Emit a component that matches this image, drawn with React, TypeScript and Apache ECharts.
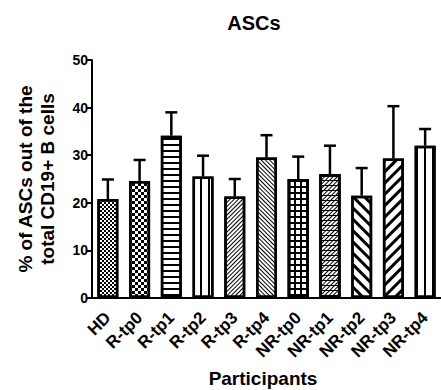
import React, { useEffect, useRef } from "react";
import * as echarts from "echarts";

const categories = ["HD", "R-tp0", "R-tp1", "R-tp2", "R-tp3", "R-tp4", "NR-tp0", "NR-tp1", "NR-tp2", "NR-tp3", "NR-tp4"];
const means = [20.8, 24.6, 34.1, 25.5, 21.3, 29.5, 25.0, 26.0, 21.5, 29.3, 32.0];
const upperErr = [24.9, 29.0, 39.0, 29.9, 25.0, 34.2, 29.7, 32.0, 27.3, 40.3, 35.5];
const yTicks = [0, 10, 20, 30, 40, 50];

const BACK = Math.PI / 4; // "\"
const FWD = -Math.PI / 4; // "/"
const decals: any[] = [
  { dashArrayX: [[2, 2], [0, 2, 2, 0]], dashArrayY: [2, 0] },
  { dashArrayX: [[3, 3], [0, 3, 3, 0]], dashArrayY: [3, 0] },
  { dashArrayX: [1, 0], dashArrayY: [1.4, 3.2] },
  { dashArrayX: [1.5, 5.5], dashArrayY: [1, 0] },
  { dashArrayX: [1, 0], dashArrayY: [1, 1.6], rotation: FWD },
  { dashArrayX: [1, 0], dashArrayY: [1, 1.6], rotation: BACK },
  { dashArrayX: [1, 0], dashArrayY: [1.2, 3.2] },
  { dashArrayX: [1, 0], dashArrayY: [1, 1.4], rotation: FWD },
  { dashArrayX: [1, 0], dashArrayY: [2.2, 5], rotation: BACK },
  { dashArrayX: [1, 0], dashArrayY: [2.2, 5], rotation: FWD },
  { dashArrayX: [2, 5.5], dashArrayY: [1, 0] },
];
// second pattern layers (grid for NR-tp0, horizontal dashes for NR-tp1)
const overlayDecals: Record<number, any> = {
  6: { dashArrayX: [1.2, 3.8], dashArrayY: [1, 0] },
  7: { dashArrayX: [1, 0], dashArrayY: [1, 4] },
};

export default function App() {
  const ref = useRef<HTMLDivElement>(null);
  useEffect(() => {
    if (!ref.current) return;
    const chart = echarts.init(ref.current, null, { renderer: "svg" });
    const font = "'Liberation Sans', Arial, sans-serif";
    chart.setOption({
      animation: false,
      backgroundColor: "#fff",
      textStyle: { fontFamily: font },
      grid: { left: 92, top: 60, width: 357, height: 238 },
      graphic: [
        { type: "text", x: 254, y: 23, style: { text: "ASCs", font: `bold 20px ${font}`, fill: "#000", align: "center", verticalAlign: "middle" } },
        { type: "text", x: 263, y: 378, style: { text: "Participants", font: `bold 19px ${font}`, fill: "#000", align: "center", verticalAlign: "middle" } },
      ],
      xAxis: {
        type: "category",
        data: categories,
        axisLine: { lineStyle: { color: "#000", width: 2 } },
        axisTick: { alignWithLabel: true, length: 6, lineStyle: { color: "#000", width: 2 } },
        axisLabel: { rotate: 45, margin: 17, color: "#000", fontWeight: "bold", fontSize: 17, fontFamily: font, interval: 0 },
      },
      yAxis: {
        type: "value",
        min: 0,
        max: 50,
        interval: 10,
        name: "% of ASCs out of the\ntotal CD19+ B cells",
        nameLocation: "middle",
        nameGap: 34,
        nameRotate: 90,
        nameTextStyle: { color: "#000", fontWeight: "bold", fontSize: 19, fontFamily: font, lineHeight: 22 },
        axisLine: { show: true, lineStyle: { color: "#000", width: 2 } },
        axisTick: { show: true, length: 6, lineStyle: { color: "#000", width: 2 } },
        axisLabel: { color: "#000", fontWeight: "bold", fontSize: 14, fontFamily: font, margin: 4, formatter: (v: number) => (yTicks.includes(v) ? String(v) : "") },
        splitLine: { show: false },
      },
      series: [
        {
          type: "bar",
          barWidth: 21,
          barGap: "-100%",
          data: means.map((v, i) => ({
            value: v,
            itemStyle: { color: "#fff", borderColor: "#000", borderWidth: 2.5, decal: { symbol: "rect", symbolSize: 1, color: "#000", ...decals[i] } },
          })),
          z: 2,
        },
        {
          type: "bar",
          barWidth: 21,
          barGap: "-100%",
          z: 2,
          data: means.map((v, i) =>
            overlayDecals[i]
              ? { value: v, itemStyle: { color: "rgba(0,0,0,0)", borderColor: "#000", borderWidth: 2.5, decal: { symbol: "rect", symbolSize: 1, color: "#000", ...overlayDecals[i] } } }
              : "-"
          ),
        },
        {
          type: "custom",
          z: 3,
          data: means.map((v, i) => [i, v, upperErr[i]]),
          renderItem: (params: any, api: any) => {
            const x = api.value(0);
            const top = api.coord([x, api.value(1)]);
            const hi = api.coord([x, api.value(2)]);
            const style = { stroke: "#000", lineWidth: 2.5, fill: "none" };
            return {
              type: "group",
              children: [
                { type: "line", shape: { x1: top[0], y1: top[1], x2: hi[0], y2: hi[1] }, style },
                { type: "line", shape: { x1: hi[0] - 6, y1: hi[1], x2: hi[0] + 6, y2: hi[1] }, style },
              ],
            };
          },
        },
      ],
    });
    return () => chart.dispose();
  }, []);
  return <div ref={ref} style={{ width: 441, height: 390, position: "fixed", left: 0, top: 0 }} />;
}
